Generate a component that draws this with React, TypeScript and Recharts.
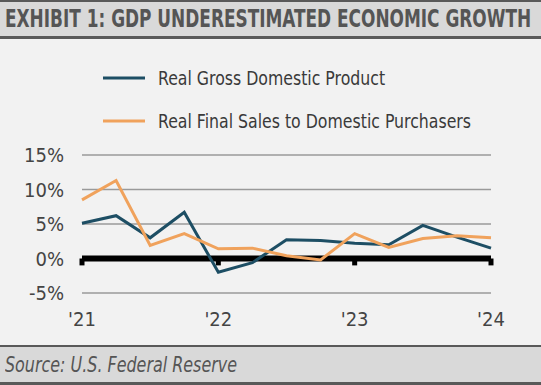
import React, { useLayoutEffect, useRef, useState } from 'react';
import {
  LineChart,
  Line,
  XAxis,
  YAxis,
  CartesianGrid,
  ReferenceLine,
  Legend,
} from 'recharts';

// Quarterly annualised growth, 2021Q1 – 2024Q1.
const quarters = [
  '2021Q1', '2021Q2', '2021Q3', '2021Q4',
  '2022Q1', '2022Q2', '2022Q3', '2022Q4',
  '2023Q1', '2023Q2', '2023Q3', '2023Q4',
  '2024Q1',
];
const gdp = [5.1, 6.2, 3.0, 6.7, -2.0, -0.6, 2.7, 2.6, 2.2, 2.0, 4.8, 3.1, 1.5];
const finalSales = [8.5, 11.3, 1.9, 3.6, 1.4, 1.5, 0.4, -0.2, 3.6, 1.6, 2.9, 3.3, 3.0];

const yearTicks = ['2021Q1', '2022Q1', '2023Q1', '2024Q1'];
const yearLabels = ["'21", "'22", "'23", "'24"];
const yTicks = [-5, 0, 5, 10, 15];

const data = quarters.map((q, i) => ({ q, gdp: gdp[i], sales: finalSales[i] }));

const NAVY = '#1d4e64';
const ORANGE = '#f0a25c';
const FONT = "'Liberation Sans Narrow', 'DejaVu Sans Condensed', 'Arial Narrow', sans-serif";

// squeezes a single line of text horizontally so it fits the given width
function FitText({ width, style, children }: any) {
  const ref = useRef<HTMLSpanElement>(null);
  const [sx, setSx] = useState(1);
  useLayoutEffect(() => {
    if (ref.current) setSx(Math.min(1, width / ref.current.scrollWidth));
  }, [width]);
  return (
    <div style={{ width, overflow: 'visible' }}>
      <span
        ref={ref}
        style={{
          ...style,
          display: 'inline-block',
          whiteSpace: 'nowrap',
          transform: `scaleX(${sx})`,
          transformOrigin: 'left center',
        }}
      >
        {children}
      </span>
    </div>
  );
}

function LegendBox({ payload }: any) {
  return (
    <div style={{ fontFamily: FONT }}>
      {(payload || []).map((p: any) => (
        <div key={p.value} style={{ display: 'flex', alignItems: 'center', height: 43 }}>
          <svg width={42} height={4}>
            <line x1={0} x2={42} y1={2} y2={2} stroke={p.color} strokeWidth={3} />
          </svg>
          <span
            style={{
              marginLeft: 13,
              fontSize: 20,
              color: '#3a3a3a',
              display: 'inline-block',
              whiteSpace: 'nowrap',
              transform: 'scaleX(0.875)',
              transformOrigin: 'left center',
            }}
          >
            {p.value}
          </span>
        </div>
      ))}
    </div>
  );
}

export default function App() {
  return (
    <div style={{ position: 'relative', width: 541, height: 385, background: '#f2f2f2', overflow: 'hidden' }}>
      <style>{'body{margin:0}'}</style>

      {/* title bar */}
      <div
        style={{
          position: 'absolute',
          left: 0,
          top: 0,
          width: 541,
          height: 34,
          background: '#d9d9d9',
          borderTop: '2px solid #595959',
          borderBottom: '3px solid #595959',
        }}
      >
        <div style={{ position: 'absolute', left: 5, top: 2 }}>
          <FitText
            width={526}
            style={{ fontFamily: FONT, fontWeight: 'bold', fontSize: 25, lineHeight: '30px', color: '#555' }}
          >
            EXHIBIT 1: GDP UNDERESTIMATED ECONOMIC GROWTH
          </FitText>
        </div>
      </div>

      <div style={{ position: 'absolute', left: 0, top: 0 }}>
        <LineChart width={541} height={385} data={data} margin={{ top: 155, right: 50, bottom: 62, left: 22 }}>
          <CartesianGrid vertical={false} stroke="#9a9a9a" strokeWidth={1.5} />
          <XAxis
            dataKey="q"
            interval={3}
            axisLine={false}
            tickLine={false}
            tickSize={0}
            tickMargin={19}
            height={30}
            tick={{ fontSize: 20, fill: '#444', fontFamily: FONT }}
            tickFormatter={(v: string) => yearLabels[yearTicks.indexOf(v)] ?? ''}
          />
          <YAxis
            domain={[-5, 15]}
            ticks={yTicks}
            width={60}
            axisLine={false}
            tickLine={false}
            tickSize={0}
            tickMargin={18}
            tick={{ fontSize: 20, fill: '#444', fontFamily: FONT }}
            tickFormatter={(v: number) => `${v}%`}
          />
          <ReferenceLine y={0} stroke="#000" strokeWidth={6} />
          {yearTicks.map((t) => (
            <ReferenceLine
              key={t}
              segment={[{ x: t, y: 0 }, { x: t, y: -1 }]}
              stroke="#000"
              strokeWidth={5}
            />
          ))}
          <Legend
            layout="vertical"
            align="center"
            verticalAlign="middle"
            itemSorter="dataKey"
            content={<LegendBox />}
            wrapperStyle={{ position: 'absolute', top: 56, left: 103, width: 420 }}
          />
          <Line
            name="Real Gross Domestic Product"
            dataKey="gdp"
            stroke={NAVY}
            strokeWidth={3}
            dot={false}
            isAnimationActive={false}
          />
          <Line
            name="Real Final Sales to Domestic Purchasers"
            dataKey="sales"
            stroke={ORANGE}
            strokeWidth={3}
            dot={false}
            isAnimationActive={false}
          />
        </LineChart>
      </div>

      {/* source bar */}
      <div
        style={{
          position: 'absolute',
          left: 0,
          top: 345,
          width: 541,
          height: 35,
          background: '#d9d9d9',
          borderTop: '2px solid #595959',
          borderBottom: '3px solid #595959',
        }}
      >
        <div style={{ position: 'absolute', left: 5, top: 4 }}>
          <FitText
            width={232}
            style={{ fontFamily: FONT, fontStyle: 'italic', fontSize: 21, lineHeight: '28px', color: '#555' }}
          >
            Source: U.S. Federal Reserve
          </FitText>
        </div>
      </div>
    </div>
  );
}
